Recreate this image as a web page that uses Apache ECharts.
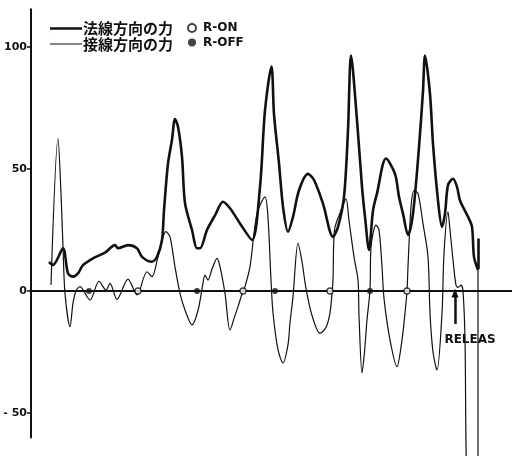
<!DOCTYPE html>
<html>
<head>
<meta charset="utf-8">
<script src="https://cdn.jsdelivr.net/npm/echarts@6/dist/echarts.min.js"></script>
<style>
  html, body { margin: 0; padding: 0; background: #fff; }
  #chart { width: 512px; height: 456px; }
</style>
</head>
<body>
<div id="chart"></div>
<script>
// time axis is in arbitrary units (0..481), force in the plot's units
const yTicks = [-50, 0, 50, 100];

// 法線方向の力 (thick curve)
const normalForce = [
  [18, 11.9], [22, 10.7], [32, 17.5], [37, 7.2], [42, 5.9], [47, 7.2], [52, 10.6],
  [62, 13.4], [74, 15.7], [84, 18.8], [87, 17.5], [97, 18.8], [106, 17.5], [111, 14],
  [121, 12], [126, 14], [131, 20.9], [133, 33], [137, 52.3], [141, 62], [144, 70.5],
  [147, 67.3], [151, 55], [154, 36], [161, 25], [166, 17.5], [169, 17.5], [176, 25],
  [184, 31], [192, 36.6], [199, 33.9], [209, 27.7], [221, 20.9], [229, 42.7], [234, 74],
  [240.5, 92], [243, 72.5], [248, 52.3], [252, 34.6], [257, 24.3], [262, 30.4], [268, 41.3],
  [277, 48], [283, 45.5], [292, 35.8], [302, 22.2], [307, 26.3], [313, 38.6], [317, 65.9],
  [320, 96.5], [326, 70], [331, 42.7], [334, 30.4], [338, 16.8], [342, 33], [346, 40],
  [355, 54.3], [364, 48], [368, 38.6], [372, 31.7], [377, 23], [382, 31.7], [388, 59],
  [392, 82], [394, 96.5], [399, 80.7], [402, 60.3], [407, 37.1], [411, 26.3], [414, 31.7],
  [417, 43.4], [422, 46], [426, 42.7], [429, 37.1], [437, 30.4], [441, 26.3], [443, 14],
  [447, 8.6], [447.2, '-'], [447.5, 21.5], [447.5, 9]
];

// 接線方向の力 (thin curve)
const tangentForce = [
  [20, 2.5], [27, 62.5], [30, 40], [32, 18], [34, -1], [39, -14.6], [42, -5], [45, 0],
  [49, 1.8], [59, -3.7], [68, 4], [75, 0.4], [79, 3.1], [86, -3.4], [97, 4.9], [106, -1.6],
  [116, 7.9], [121, 5.9], [127, 14], [135, 24.3], [139, 22.2], [144, 9.9], [149, -1],
  [154, -7.8], [161, -13.9], [167, -8], [171.5, 2], [174, 6.5], [177, 4.5], [181, 9],
  [186, 13.4], [189, 10], [194, -1], [199, -16], [204, -10], [207, -6.4], [212, 0],
  [214, 1.8], [219, 10], [226, 31.7], [234, 38.6], [237, 30], [240, 4.5], [242, -9],
  [247, -24], [252, -29.5], [257, -22], [259, -13], [262, -2.3], [267, 19.5], [271, 12],
  [275, 1], [281, -10], [289, -17.3], [295, -15], [299, -9], [301, -1], [302, 4.5],
  [303.5, 25], [310, 33], [315, 37.8], [318, 29], [323, 14], [327, 4.5], [328, -10],
  [331, -33.6], [333.5, -25], [336, -11.8], [339, 0.4], [340, 18], [345, 27], [348, 25],
  [351, 10], [353, -3], [359, -20], [366, -31], [371, -20], [374, -9], [376, 0], [377, 10],
  [380, 34.4], [383, 41.2], [387, 40], [392, 27.6], [397, 14], [399, -9], [402, -25],
  [406, -32.4], [411, -9], [413, 15.4], [417, 32.4], [419, 25], [422, 12.7], [425, 2.4],
  [427, 1.5], [430, 2.4], [432, 0], [434, -20], [436, -80], [441, -90], [447, -80], [447, 8.6]
];

// R-ON / R-OFF marks on the zero line
const rOnAt = [107, 212, 299, 376];
const rOffAt = [58, 166, 244, 339];

// release annotation
const releaseAt = 424;
const releaseArrow = [-13.5, -0.8];
const releaseLabel = [439, -20];

const ink = '#111';
// plain line samples for the legend (thin sliver on the left keeps the box 32x12)
const thickIcon = 'path://M0,0H0.01V12H0Z M0,4.7H32V7.3H0Z';
const thinIcon = 'path://M0,0H0.01V12H0Z M0,5.4H32V6.6H0Z';

const chart = echarts.init(document.getElementById('chart'));

chart.setOption({
  backgroundColor: '#fff',
  animation: false,
  grid: { left: 31, right: 0, top: 9.2, bottom: 18.6 },
  legend: [
    {
      data: [
        { name: '法線方向の力', icon: thickIcon },
        { name: '接線方向の力', icon: thinIcon }
      ],
      orient: 'vertical',
      left: 50,
      top: 21,
      padding: 0,
      itemWidth: 32,
      itemHeight: 12,
      itemGap: 0.5,
      textStyle: {
        color: ink, fontSize: 15, lineHeight: 14, fontWeight: 'bold',
        fontFamily: 'Noto Sans CJK JP', padding: [0, 0, 0, -4]
      }
    },
    {
      data: ['R-ON', 'R-OFF'],
      orient: 'vertical',
      left: 187,
      top: 21,
      padding: 0,
      icon: 'circle',
      itemWidth: 8,
      itemHeight: 12,
      itemGap: 0.5,
      textStyle: {
        color: ink, fontSize: 12, lineHeight: 14, fontWeight: 'bold',
        fontFamily: 'DejaVu Sans', padding: [0, 0, 0, 2]
      }
    }
  ],
  xAxis: {
    type: 'value',
    min: 0,
    max: 481,
    axisLine: { show: true, onZero: true, lineStyle: { color: ink, width: 2 } },
    axisTick: { show: false },
    axisLabel: { show: false },
    splitLine: { show: false }
  },
  yAxis: {
    type: 'value',
    min: -60,
    max: 115.5,
    axisLine: { show: true, lineStyle: { color: ink, width: 2 } },
    axisTick: { show: true, length: 4, customValues: yTicks, lineStyle: { color: ink, width: 1.5 } },
    axisLabel: {
      customValues: yTicks,
      margin: 4,
      color: ink,
      fontSize: 11,
      fontWeight: 'bold',
      fontFamily: 'DejaVu Sans',
      formatter: (v) => (v < 0 ? '- ' + Math.abs(v) : String(v))
    },
    splitLine: { show: false }
  },
  series: [
    {
      name: '法線方向の力',
      type: 'line',
      data: normalForce,
      smooth: 0.3,
      symbol: 'none',
      clip: false,
      lineStyle: { color: ink, width: 2.6 },
      itemStyle: { color: ink },
      z: 3
    },
    {
      name: '接線方向の力',
      type: 'line',
      data: tangentForce,
      smooth: 0.3,
      symbol: 'none',
      clip: false,
      lineStyle: { color: ink, width: 1.2 },
      itemStyle: { color: ink },
      z: 3,
      markLine: {
        silent: true,
        symbol: ['none', 'triangle'],
        symbolSize: [7, 9],
        lineStyle: { color: ink, width: 2.5, type: 'solid' },
        label: { show: false },
        data: [[
          { coord: [releaseAt, releaseArrow[0]] },
          { coord: [releaseAt, releaseArrow[1]] }
        ]]
      },
      markPoint: {
        silent: true,
        symbol: 'circle',
        symbolSize: 0,
        label: {
          show: true,
          formatter: 'RELEAS',
          color: ink,
          fontSize: 12,
          fontWeight: 'bold',
          fontFamily: 'DejaVu Sans'
        },
        data: [{ coord: releaseLabel }]
      }
    },
    {
      name: 'R-ON',
      type: 'scatter',
      data: rOnAt.map((t) => [t, 0]),
      symbol: 'circle',
      symbolSize: 6,
      itemStyle: { color: '#fff', borderColor: ink, borderWidth: 1.3 },
      z: 4
    },
    {
      name: 'R-OFF',
      type: 'scatter',
      data: rOffAt.map((t) => [t, 0]),
      symbol: 'circle',
      symbolSize: 6,
      itemStyle: { color: ink },
      z: 4
    }
  ]
});
</script>
</body>
</html>
